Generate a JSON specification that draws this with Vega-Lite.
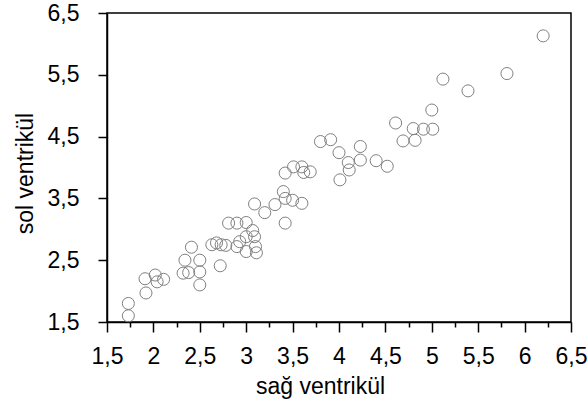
{
  "$schema": "https://vega.github.io/schema/vega-lite/v6.json",
  "autosize": "none",
  "width": 464,
  "height": 309,
  "padding": {"left": 107, "top": 13, "right": 16, "bottom": 85},
  "background": "#ffffff",
  "config": {
    "view": {"stroke": "#000000", "strokeWidth": 1.5},
    "font": "Liberation Sans"
  },
  "data": {
    "values": [
      {"sag": 1.73, "sol": 1.8}, {"sag": 1.73, "sol": 1.6}, {"sag": 1.91, "sol": 2.2}, {"sag": 1.92, "sol": 1.97},
      {"sag": 2.02, "sol": 2.26}, {"sag": 2.11, "sol": 2.19}, {"sag": 2.04, "sol": 2.15}, {"sag": 2.34, "sol": 2.5},
      {"sag": 2.32, "sol": 2.29}, {"sag": 2.41, "sol": 2.71}, {"sag": 2.5, "sol": 2.5}, {"sag": 2.5, "sol": 2.31},
      {"sag": 2.5, "sol": 2.1}, {"sag": 2.38, "sol": 2.3}, {"sag": 2.63, "sol": 2.75}, {"sag": 2.68, "sol": 2.78},
      {"sag": 2.73, "sol": 2.75}, {"sag": 2.78, "sol": 2.74}, {"sag": 2.72, "sol": 2.41}, {"sag": 2.9, "sol": 2.72},
      {"sag": 2.81, "sol": 3.1}, {"sag": 2.9, "sol": 3.1}, {"sag": 3.0, "sol": 3.11}, {"sag": 3.0, "sol": 2.88},
      {"sag": 3.0, "sol": 2.64}, {"sag": 3.11, "sol": 2.62}, {"sag": 3.09, "sol": 2.88}, {"sag": 3.09, "sol": 3.41},
      {"sag": 3.2, "sol": 3.27}, {"sag": 3.31, "sol": 3.4}, {"sag": 3.4, "sol": 3.61}, {"sag": 3.42, "sol": 3.5},
      {"sag": 3.5, "sol": 3.47}, {"sag": 3.6, "sol": 3.42}, {"sag": 3.42, "sol": 3.1}, {"sag": 3.42, "sol": 3.91},
      {"sag": 3.51, "sol": 4.01}, {"sag": 3.6, "sol": 4.01}, {"sag": 3.69, "sol": 3.93}, {"sag": 3.62, "sol": 3.92},
      {"sag": 3.8, "sol": 4.42}, {"sag": 3.91, "sol": 4.45}, {"sag": 4.0, "sol": 4.24}, {"sag": 4.1, "sol": 4.08},
      {"sag": 4.11, "sol": 3.96}, {"sag": 4.01, "sol": 3.8}, {"sag": 4.23, "sol": 4.34}, {"sag": 4.23, "sol": 4.12},
      {"sag": 4.4, "sol": 4.11}, {"sag": 4.52, "sol": 4.02}, {"sag": 4.61, "sol": 4.72}, {"sag": 4.69, "sol": 4.43},
      {"sag": 4.8, "sol": 4.63}, {"sag": 4.82, "sol": 4.44}, {"sag": 4.91, "sol": 4.62}, {"sag": 5.01, "sol": 4.62},
      {"sag": 5.0, "sol": 4.93}, {"sag": 5.12, "sol": 5.43}, {"sag": 5.39, "sol": 5.24}, {"sag": 5.81, "sol": 5.52},
      {"sag": 6.2, "sol": 6.13}, {"sag": 3.07, "sol": 2.98}, {"sag": 2.93, "sol": 2.8}, {"sag": 3.1, "sol": 2.72}
    ]
  },
  "layer": [
    {
      "mark": {"type": "point", "shape": "circle", "filled": false, "stroke": "#808080", "strokeWidth": 1, "size": 145, "opacity": 1},
      "encoding": {
        "x": {
          "field": "sag", "type": "quantitative",
          "scale": {"domain": [1.5, 6.5], "nice": false, "zero": false},
          "axis": {
            "orient": "bottom",
            "title": "sağ ventrikül",
            "values": [1.5, 2, 2.5, 3, 3.5, 4, 4.5, 5, 5.5, 6, 6.5],
            "labelExpr": "replace(format(datum.value, '.1~f'), '.', ',')",
            "grid": false,
            "domainColor": "#000000", "domainWidth": 1.5,
            "tickColor": "#000000", "tickWidth": 1.5, "tickSize": 10,
            "labelFont": "Liberation Sans", "labelFontSize": 23, "labelColor": "#000000", "labelPadding": 13,
            "labelOverlap": false, "labelFlush": false,
            "titleFont": "Liberation Sans", "titleFontSize": 23, "titleFontWeight": "normal", "titleColor": "#000000",
            "titleX": 213, "titleY": 71, "titleBaseline": "alphabetic", "titleAnchor": null
          }
        },
        "y": {
          "field": "sol", "type": "quantitative",
          "scale": {"domain": [1.5, 6.5], "nice": false, "zero": false},
          "axis": {
            "title": "sol ventrikül",
            "values": [1.5, 2, 2.5, 3, 3.5, 4, 4.5, 5, 5.5, 6, 6.5],
            "labelExpr": "datum.value % 1 == 0 ? '' : replace(format(datum.value, '.1f'), '.', ',')",
            "grid": false,
            "domainColor": "#000000", "domainWidth": 1.5,
            "tickColor": "#000000", "tickWidth": 1.5, "tickSize": 9,
            "labelFont": "Liberation Sans", "labelFontSize": 23, "labelColor": "#000000", "labelPadding": 19,
            "labelOverlap": false, "labelFlush": false,
            "titleFont": "Liberation Sans", "titleFontSize": 23, "titleFontWeight": "normal", "titleColor": "#000000",
            "titleX": -75, "titleY": 160, "titleBaseline": "alphabetic", "titleAngle": -90
          }
        }
      }
    },
    {
      "mark": {"type": "point", "opacity": 0},
      "encoding": {
        "x": {
          "field": "sag", "type": "quantitative",
          "scale": {"domain": [1.5, 6.5], "nice": false, "zero": false},
          "axis": {
            "orient": "bottom",
            "title": null,
            "values": [1.75, 2.25, 2.75, 3.25, 3.75, 4.25, 4.75, 5.25, 5.75, 6.25],
            "labels": false,
            "grid": false,
            "domain": false,
            "tickColor": "#000000", "tickWidth": 1.5, "tickSize": 5
          }
        },
        "y": {"field": "sol", "type": "quantitative", "scale": {"domain": [1.5, 6.5], "nice": false, "zero": false}}
      }
    }
  ],
  "resolve": {"axis": {"x": "independent"}}
}
